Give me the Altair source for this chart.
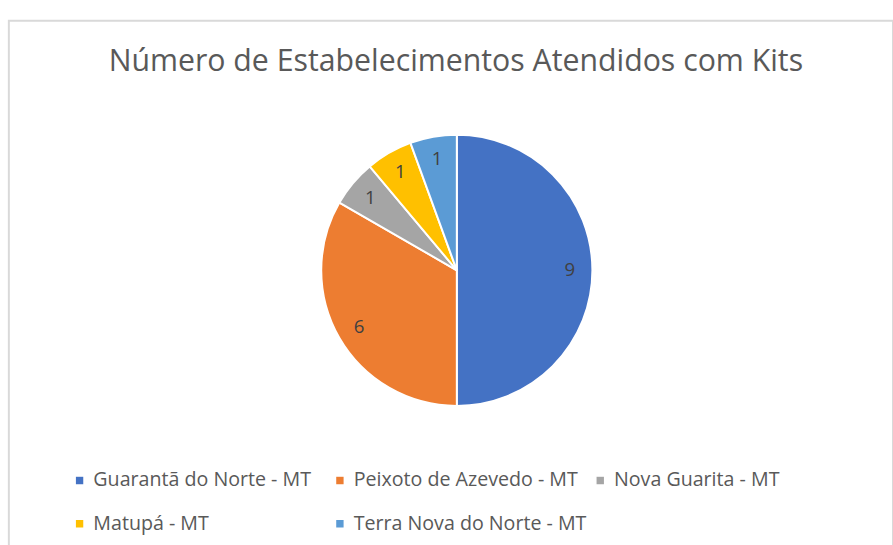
import altair as alt
import pandas as pd

categories = ["Guarantã do Norte - MT", "Peixoto de Azevedo - MT", "Nova Guarita - MT",
              "Matupá - MT", "Terra Nova do Norte - MT"]
values = [9, 6, 1, 1, 1]
colors = ["#4472C4", "#ED7D31", "#A5A5A5", "#FFC000", "#5B9BD5"]

df = pd.DataFrame({"cat": categories, "val": values, "ord": list(range(len(categories)))})

FONT = "Open Sans"
base = alt.Chart(df).encode(
    theta=alt.Theta("val:Q", stack=True),
    order=alt.Order("ord:Q"),
    x=alt.value(456),
    y=alt.value(254),
)

arcs = base.mark_arc(outerRadius=138, stroke="white", strokeWidth=2).encode(
    color=alt.Color("cat:N", scale=alt.Scale(domain=categories, range=colors),
                    sort=categories,
                    legend=alt.Legend(title=None, orient="none", legendX=62, legendY=458,
                                      direction="horizontal",
                                      columns=3, gridAlign="all", columnPadding=3,
                                      rowPadding=24, symbolType="square", symbolSize=81,
                                      labelFontSize=20, labelFont=FONT, labelColor="#595959",
                                      labelLimit=400, padding=0))
)

labels = base.mark_text(radius=115, fontSize=19, font=FONT, color="#404040",
                        baseline="middle", align="center").encode(text="val:Q")

chart = (arcs + labels).properties(
    width=900, height=560,
    title=alt.TitleParams("Número de Estabelecimentos Atendidos com Kits",
                          fontSize=30.8, font=FONT, color="#595959", fontWeight="normal",
                          anchor="middle", dy=62, dx=5),
    autosize=alt.AutoSizeParams(type="none"),
    padding={"left": 9, "top": 16, "right": 0, "bottom": 0},
).configure_view(stroke="#d9d9d9", strokeWidth=2)

chart.save("out.html", embed_options={"renderer": "svg", "actions": False})
